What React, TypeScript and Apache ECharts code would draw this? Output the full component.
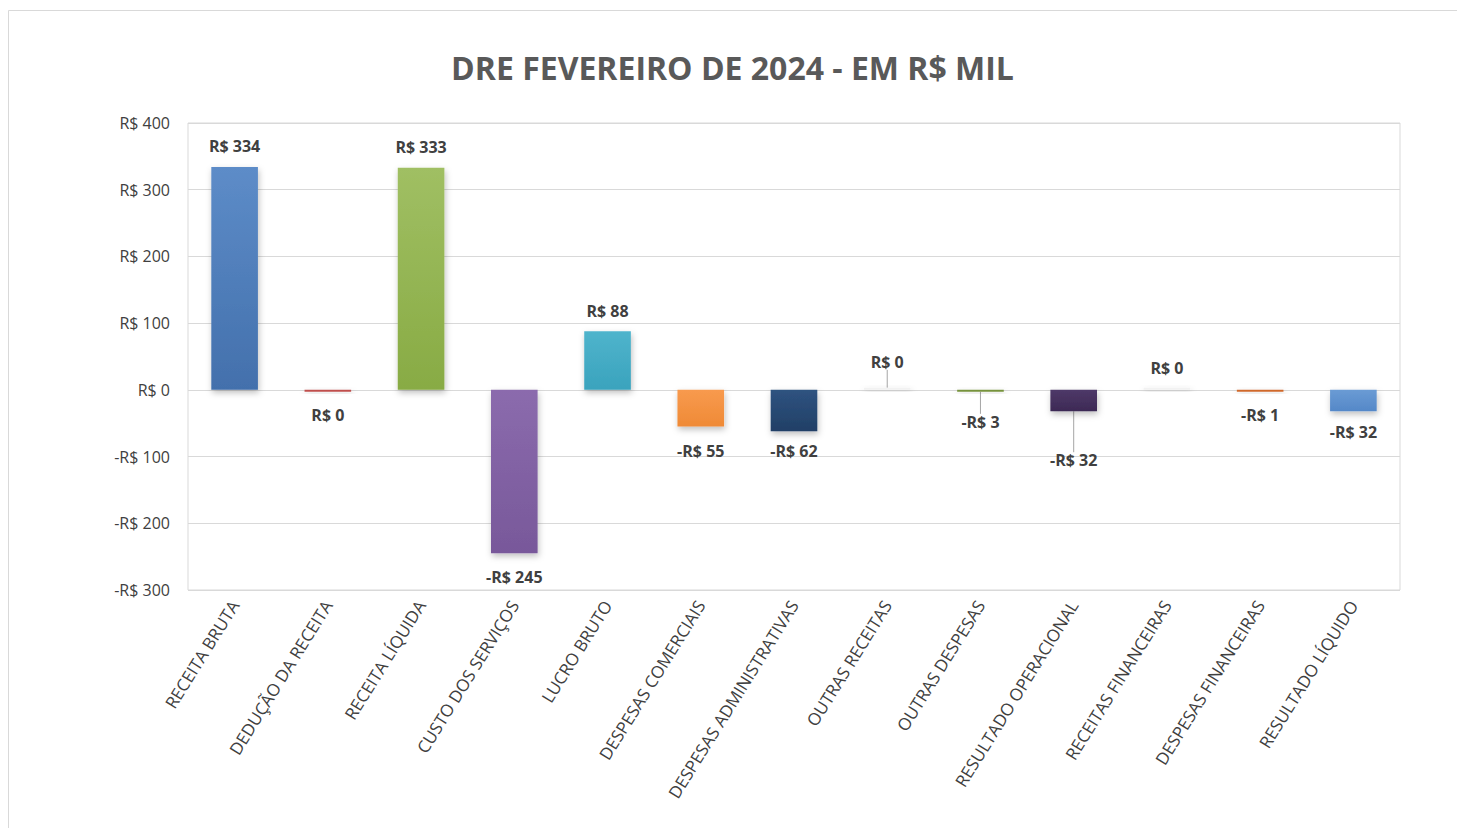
import React, { useEffect, useRef } from "react";
import * as echarts from "echarts";

const categories = [
  "RECEITA BRUTA",
  "DEDUÇÃO DA RECEITA",
  "RECEITA LÍQUIDA",
  "CUSTO DOS SERVIÇOS",
  "LUCRO BRUTO",
  "DESPESAS COMERCIAIS",
  "DESPESAS ADMINISTRATIVAS",
  "OUTRAS RECEITAS",
  "OUTRAS DESPESAS",
  "RESULTADO OPERACIONAL",
  "RECEITAS FINANCEIRAS",
  "DESPESAS FINANCEIRAS",
  "RESULTADO LÍQUIDO",
];

const values = [334, -0.4, 333, -245, 88, -55, -62, 0.2, -3, -32, 0.1, -1, -32];

const topColors = [
  "#5d8cc8", "#c0504d", "#a0bf63", "#8b6bad", "#4fb4cc", "#f89a4e", "#2f5380",
  "#f2f2f2", "#77933c", "#4e3868", "#f2f2f2", "#d0692b", "#6a9bd4",
];
const bottomColors = [
  "#4370ac", "#c0504d", "#88ab44", "#78589a", "#3aa3bd", "#ef8a36", "#213f66",
  "#f2f2f2", "#77933c", "#3d2a55", "#f2f2f2", "#d0692b", "#5588c8",
];

const labelDy = [-1, 3, -1, 4, 0, 4, 0, -6, 10, 29, 0, 3, 1];
const showLeader = [false, false, false, false, false, false, false, true, true, true, false, false, false];

const yTicks = { min: -300, max: 400, interval: 100 };

const fmt = (v: number) => {
  const r = Math.round(v);
  return r < 0 ? "-R$ " + -r : "R$ " + Math.abs(r);
};

export default function App() {
  const ref = useRef<HTMLDivElement>(null);
  useEffect(() => {
    if (!ref.current) return;
    const chart = echarts.init(ref.current, undefined, { renderer: "svg" });
    const font = "'Open Sans', 'Noto Sans', sans-serif";
    chart.setOption({
      animation: false,
      backgroundColor: "#ffffff",
      textStyle: { fontFamily: font },
      title: {
        text: "DRE FEVEREIRO DE 2024 - EM R$ MIL",
        left: "center",
        top: 38,
        textStyle: { fontFamily: font, fontSize: 32, fontWeight: "bold", color: "#595959" },
      },
      graphic: [
        {
          type: "rect",
          shape: { x: 0.5, y: 2.5, width: 1470, height: 830 },
          style: { fill: "none", stroke: "#d9d9d9", lineWidth: 1 },
          silent: true,
        },
      ],
      grid: { left: 180, right: 57, top: 115, bottom: 238, show: true, borderColor: "#d9d9d9", borderWidth: 1 },
      xAxis: {
        type: "category",
        data: categories,
        position: "bottom",
        axisLine: { show: false },
        axisTick: { show: false },
        axisLabel: {
          rotate: 58,
          interval: 0,
          margin: 12,
          fontSize: 17,
          color: "#404040",
          fontFamily: font,
        },
      },
      yAxis: {
        type: "value",
        min: yTicks.min,
        max: yTicks.max,
        interval: yTicks.interval,
        axisLine: { show: false },
        axisTick: { show: false },
        splitLine: { lineStyle: { color: "#d9d9d9", width: 1 } },
        axisLabel: {
          formatter: (v: number) => fmt(v),
          fontSize: 16,
          color: "#404040",
          margin: 18,
          fontFamily: font,
        },
      },
      series: [
        {
          type: "bar",
          barWidth: "50%",
          barMinHeight: 2,
          data: values.map((v, i) => ({
            value: v,
            itemStyle: {
              color: new echarts.graphic.LinearGradient(0, 0, 0, 1, [
                { offset: 0, color: topColors[i] },
                { offset: 1, color: bottomColors[i] },
              ]),
              shadowBlur: 6,
              shadowOffsetY: 3,
              shadowOffsetX: 1,
              shadowColor: "rgba(0,0,0,0.25)",
            },
            label: { position: v >= 0 ? "top" : "bottom" },
            labelLine: { show: showLeader[i], lineStyle: { color: "#a6a6a6", width: 1 } },
          })),
          label: {
            show: true,
            distance: 12,
            fontSize: 16,
            fontWeight: "bold",
            color: "#404040",
            fontFamily: font,
            formatter: (p: any) => fmt(p.value),
          },
          labelLine: { show: false, lineStyle: { color: "#a6a6a6" } },
          labelLayout: (p: any) => ({ dy: labelDy[p.dataIndex] }),
        },
      ],
    });
    return () => chart.dispose();
  }, []);
  return <div ref={ref} style={{ width: 1449, height: 820 }} />;
}
